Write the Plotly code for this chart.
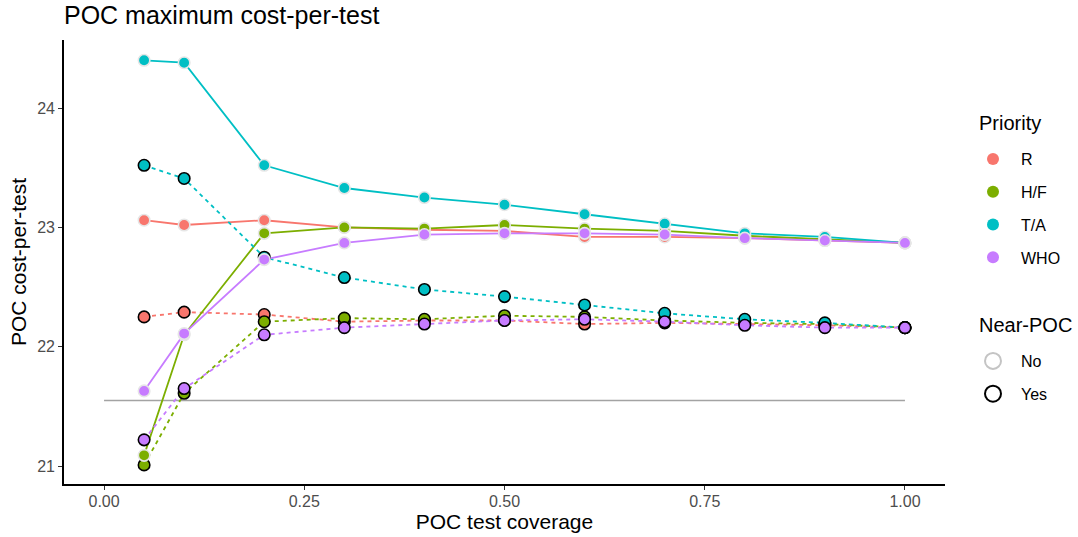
import plotly.graph_objects as go

# POC test coverage levels
coverage = [0.05, 0.1, 0.2, 0.3, 0.4, 0.5, 0.6, 0.7, 0.8, 0.9, 1.0]

# Maximum cost-per-test, without near-POC testing
r_no = [23.06, 23.02, 23.06, 23.00, 22.98, 22.97, 22.92, 22.92, 22.91, 22.89, 22.87]
hf_no = [21.09, 22.10, 22.95, 23.00, 22.99, 23.02, 22.99, 22.97, 22.93, 22.90, 22.87]
ta_no = [24.40, 24.38, 23.52, 23.33, 23.25, 23.19, 23.11, 23.03, 22.95, 22.92, 22.87]
who_no = [21.63, 22.11, 22.73, 22.87, 22.94, 22.95, 22.95, 22.94, 22.91, 22.89, 22.87]

# Maximum cost-per-test, with near-POC testing
r_yes = [22.25, 22.29, 22.27, 22.21, 22.22, 22.22, 22.19, 22.20, 22.19, 22.18, 22.16]
hf_yes = [21.01, 21.61, 22.21, 22.24, 22.23, 22.26, 22.25, 22.22, 22.20, 22.19, 22.16]
ta_yes = [23.52, 23.41, 22.75, 22.58, 22.48, 22.42, 22.35, 22.28, 22.23, 22.20, 22.16]
who_yes = [21.22, 21.65, 22.10, 22.16, 22.19, 22.22, 22.23, 22.21, 22.18, 22.16, 22.16]

# Reference cost line
ref_x = [0.0, 1.0]
ref_cost = 21.55

priorities = ["R", "H/F", "T/A", "WHO"]
colors = ["#F8766D", "#7CAE00", "#00BFC4", "#C77CFF"]
series = {
    "R": (r_no, r_yes),
    "H/F": (hf_no, hf_yes),
    "T/A": (ta_no, ta_yes),
    "WHO": (who_no, who_yes),
}

FONT = "Liberation Sans, Arial, sans-serif"
NO_EDGE = "#E6E6E6"
YES_EDGE = "#000000"

W, H = 1078, 537
ML, MR, MT, MB = 64, 133, 40, 53
PW, PH = W - ML - MR, H - MT - MB


def px_x(x):
    return (x - ML) / PW


def px_y(y):
    return (H - MB - y) / PH


fig = go.Figure()

# reference line
fig.add_trace(go.Scatter(
    x=ref_x, y=[ref_cost, ref_cost], mode="lines",
    line=dict(color="#A3A3A3", width=1.6), showlegend=False, hoverinfo="skip",
))

# lines first
for p, c in zip(priorities, colors):
    no_vals, yes_vals = series[p]
    fig.add_trace(go.Scatter(
        x=coverage, y=no_vals, mode="lines",
        line=dict(color=c, width=1.8), showlegend=False,
    ))
    fig.add_trace(go.Scatter(
        x=coverage, y=yes_vals, mode="lines",
        line=dict(color=c, width=1.8, dash="4px,4px"), showlegend=False,
    ))

# points on top
for p, c in zip(priorities, colors):
    no_vals, yes_vals = series[p]
    fig.add_trace(go.Scatter(
        x=coverage, y=yes_vals, mode="markers",
        marker=dict(color=c, size=11.5, line=dict(color=YES_EDGE, width=1.6)),
        showlegend=False, name=p + " Yes",
    ))
    fig.add_trace(go.Scatter(
        x=coverage, y=no_vals, mode="markers",
        marker=dict(color=c, size=11.5, line=dict(color=NO_EDGE, width=1.6)),
        showlegend=False, name=p + " No",
    ))

# legend keys: Priority
for i, (p, c) in enumerate(zip(priorities, colors)):
    fig.add_trace(go.Scatter(
        x=[None], y=[None], mode="markers",
        marker=dict(color=c, size=12, line=dict(color="white", width=0)),
        name=p, legend="legend", legendgroup="p" + str(i), showlegend=True,
    ))

# legend keys: Near-POC
for i, (lab, edge) in enumerate([("No", "#C4C4C4"), ("Yes", "#000000")]):
    fig.add_trace(go.Scatter(
        x=[None], y=[None], mode="markers",
        marker=dict(color="white", size=16, line=dict(color=edge, width=2)),
        name=lab, legend="legend2", legendgroup="n" + str(i), showlegend=True,
    ))

legend_common = dict(
    xanchor="left", yanchor="top",
    font=dict(family=FONT, size=16, color="#000000"),
    bgcolor="rgba(0,0,0,0)", borderwidth=0,
    traceorder="grouped", tracegroupgap=9, itemwidth=46,
)

fig.update_layout(
    width=W, height=H,
    margin=dict(l=ML, r=MR, t=MT, b=MB, autoexpand=False),
    plot_bgcolor="white", paper_bgcolor="white",
    font=dict(family=FONT, color="#000000"),
    title=dict(
        text="POC maximum cost-per-test",
        x=64 / W, xanchor="left", xref="container",
        y=1 - 15 / H, yanchor="middle", yref="container",
        font=dict(family=FONT, size=25, color="#000000"),
    ),
    xaxis=dict(
        range=[-0.05, 1.05], automargin=False,
        tickvals=[0, 0.25, 0.5, 0.75, 1.0],
        ticktext=["0.00", "0.25", "0.50", "0.75", "1.00"],
        showgrid=False, zeroline=False,
        showline=True, linecolor="#000000", linewidth=1.6,
        ticks="outside", ticklen=4, tickcolor="#333333", tickwidth=1,
        ticklabelstandoff=-2,
        tickfont=dict(family=FONT, size=16, color="#4D4D4D"),
        title=dict(text="POC test coverage", standoff=3,
                   font=dict(family=FONT, size=21, color="#000000")),
    ),
    yaxis=dict(
        range=[20.85, 24.57], automargin=False,
        tickvals=[21, 22, 23, 24],
        showgrid=False, zeroline=False,
        showline=True, linecolor="#000000", linewidth=1.6,
        ticks="outside", ticklen=4, tickcolor="#333333", tickwidth=1,
        tickfont=dict(family=FONT, size=16, color="#4D4D4D"),
        title=dict(text="POC cost-per-test", standoff=5,
                   font=dict(family=FONT, size=21, color="#000000")),
    ),
    legend=dict(x=px_x(965), y=px_y(142), **legend_common),
    legend2=dict(x=px_x(965), y=px_y(344), **legend_common),
    annotations=[
        dict(text="Priority", x=px_x(977), y=px_y(123), xref="paper", yref="paper",
             xanchor="left", yanchor="middle", showarrow=False,
             font=dict(family=FONT, size=20, color="#000000")),
        dict(text="Near-POC", x=px_x(977), y=px_y(325), xref="paper", yref="paper",
             xanchor="left", yanchor="middle", showarrow=False,
             font=dict(family=FONT, size=20, color="#000000")),
    ],
)

fig.write_html("out.html")
